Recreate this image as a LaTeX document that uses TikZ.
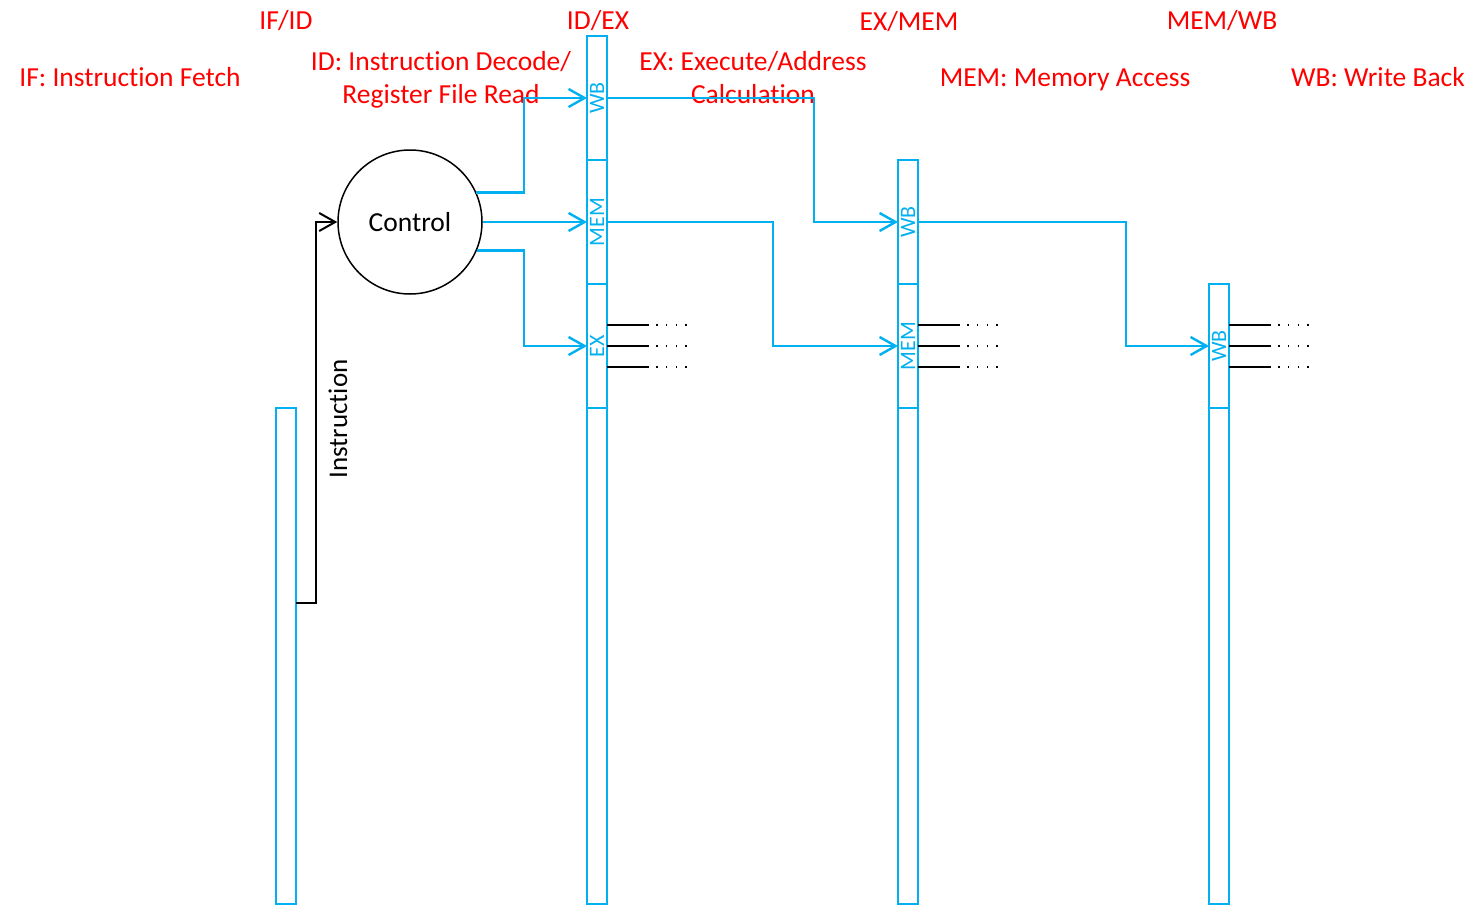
\documentclass[tikz,border=0pt]{standalone}
\usepackage{fontspec}
\usepackage{graphicx}
\setmainfont{Carlito}[Ligatures=NoCommon]
\usetikzlibrary{arrows.meta,calc}
\definecolor{regblue}{HTML}{00B0F0}
\definecolor{txtred}{HTML}{FF0000}
\tikzset{
  seg/.style={draw=regblue, line width=1.8pt, inner sep=0pt, outer sep=0pt, minimum width=20pt, text=regblue, font=\fontsize{22}{26}\selectfont},
  stage/.style={text=txtred, font=\fontsize{27.5}{33}\selectfont, align=center, inner sep=0pt},
  stageone/.style={stage, text height=18pt, text depth=0pt},
  bluarrow/.style={draw=regblue, line width=2.4pt, -{Straight Barb[length=16pt,width=18pt,line width=2.4pt]}},
  blkarrow/.style={draw=black, line width=2pt, -{Straight Barb[length=16pt,width=18pt,line width=2pt]}},
  outline/.style={draw=black, line width=2pt},
  dotsline/.style={draw=black, line width=1.5pt, dash pattern=on 1.6pt off 8.2pt},
}
\begin{document}
\begin{tikzpicture}[x=1pt,y=-1pt]
\useasboundingbox (0,0) rectangle (1476,905);
% stage titles
\node[stageone] (tifid) at (286,20) {IF/ID};
\node[stageone] (tidex) at (598,20) {ID/EX};
\node[stageone] (texmem) at (909,21) {EX/MEM};
\node[stageone] (tmemwb) at (1222,20) {MEM/WB};
\node[stageone] (sif) at (130,77) {IF: Instruction Fetch};
\node[stage] (sid) at (441,80) {ID: Instruction Decode/\\Register File Read};
\node[stage] (sex) at (753,78) {EX: Execute/Address\\Calculation};
\node[stageone] (smem) at (1065,77) {MEM: Memory Access};
\node[stageone] (swb) at (1378,77) {WB: Write Back};
% IF/ID
\node[seg, minimum height=496pt] (ifid) at (286,656) {};
% ID/EX
\node[seg, minimum height=124pt] (idexWB) at (597,98) {\rotatebox{90}{WB}};
\node[seg, minimum height=124pt] (idexMEM) at (597,222) {\rotatebox{90}{MEM}};
\node[seg, minimum height=124pt] (idexEX) at (597,346) {\rotatebox{90}{EX}};
\node[seg, minimum height=496pt] (idexB) at (597,656) {};
% EX/MEM
\node[seg, minimum height=124pt] (exmemWB) at (908,222) {\rotatebox{90}{WB}};
\node[seg, minimum height=124pt] (exmemMEM) at (908,346) {\rotatebox{90}{MEM}};
\node[seg, minimum height=496pt] (exmemB) at (908,656) {};
% MEM/WB
\node[seg, minimum height=124pt] (memwbWB) at (1219,346) {\rotatebox{90}{WB}};
\node[seg, minimum height=496pt] (memwbB) at (1219,656) {};
% Control
\node[circle, draw=black, line width=1.5pt, minimum size=144pt, inner sep=0pt, font=\fontsize{27.5}{33}\selectfont] (ctrl) at (410,222) {Control};
% Instruction
\draw[blkarrow] ($(ifid.east)+(0,-53)$) -| ($(ctrl.west)+(-21,0)$) -- (ctrl.west);
\node[rotate=90, font=\fontsize{27}{32}\selectfont, inner sep=0pt] (instr) at (338,419) {Instruction};
% control outputs
\draw[bluarrow] (ctrl.24) -| ($(idexWB.west)+(-63,0)$) -- (idexWB.west);
\draw[bluarrow] (ctrl.east) -- (idexMEM.west);
\draw[bluarrow] (ctrl.-23) -| ($(idexEX.west)+(-63,0)$) -- (idexEX.west);
% ID/EX outputs
\draw[bluarrow] (idexWB.east) -| ($(exmemWB.west)+(-84,0)$) -- (exmemWB.west);
\draw[bluarrow] (idexMEM.east) -| ($(exmemMEM.west)+(-125,0)$) -- (exmemMEM.west);
% EX/MEM outputs
\draw[bluarrow] (exmemWB.east) -| ($(memwbWB.west)+(-83,0)$) -- (memwbWB.west);
% control lines out of the EX, MEM, WB fields
\foreach \r in {idexEX, exmemMEM, memwbWB}{
  \foreach \dy in {-21,0,21}{
    \draw[outline] ($(\r.east)+(0,\dy)$) -- ++(42,0);
    \draw[dotsline] ($(\r.east)+(49,\dy)$) -- ++(32,0);
  }
}
\end{tikzpicture}
\end{document}
